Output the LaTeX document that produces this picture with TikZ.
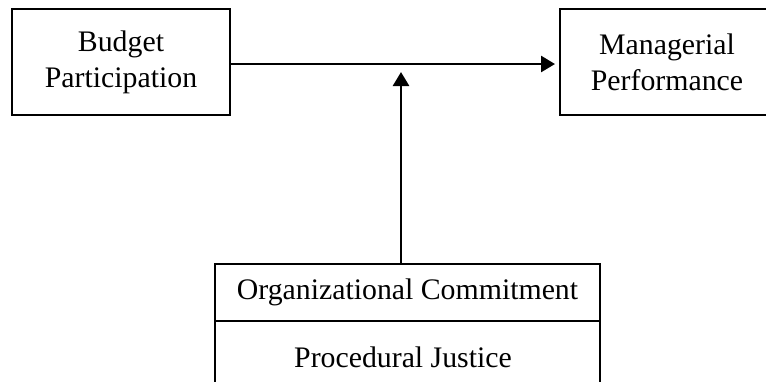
\documentclass[tikz,border=0pt]{standalone}
\usepackage{fontspec}
\setmainfont{Liberation Serif}
\usetikzlibrary{arrows.meta}
\begin{document}
\begin{tikzpicture}[x=0.5pt,y=-0.5pt,
  box/.style={draw, line width=1.4pt, inner sep=0pt, outer sep=0pt, align=center,
    font=\fontsize{14.9pt}{18pt}\selectfont},
  lbl/.style={inner sep=0pt, font=\fontsize{14.9pt}{18pt}\selectfont},
  arr/.style={line width=1.3pt, -{Triangle[length=7pt,width=8pt]}}]
\useasboundingbox (0,0) rectangle (766,381);
\clip (0,0) rectangle (766,381);
\node[box, minimum width=109pt, minimum height=53pt] (bp) at (121,62) {Budget\\Participation};
\node[box, minimum width=107pt, minimum height=53pt] (mp) at (667,62) {Managerial\\Performance};
\node[box, minimum width=192.5pt, minimum height=28.5pt] (oc) at (407.5,292.5) {Organizational Commitment};
\node[box, minimum width=192.5pt, minimum height=60pt, anchor=north] (pj) at (oc.south) {};
\node[lbl, anchor=base] (pjt) at (403,367) {Procedural Justice};
\coordinate (tip) at (401,72);
\draw[arr, shorten >=2.5pt] ([yshift=-1pt]bp.east) -- ([yshift=-1pt]mp.west);
\draw[arr] (oc.north -| tip) -- (tip);
\end{tikzpicture}
\end{document}
